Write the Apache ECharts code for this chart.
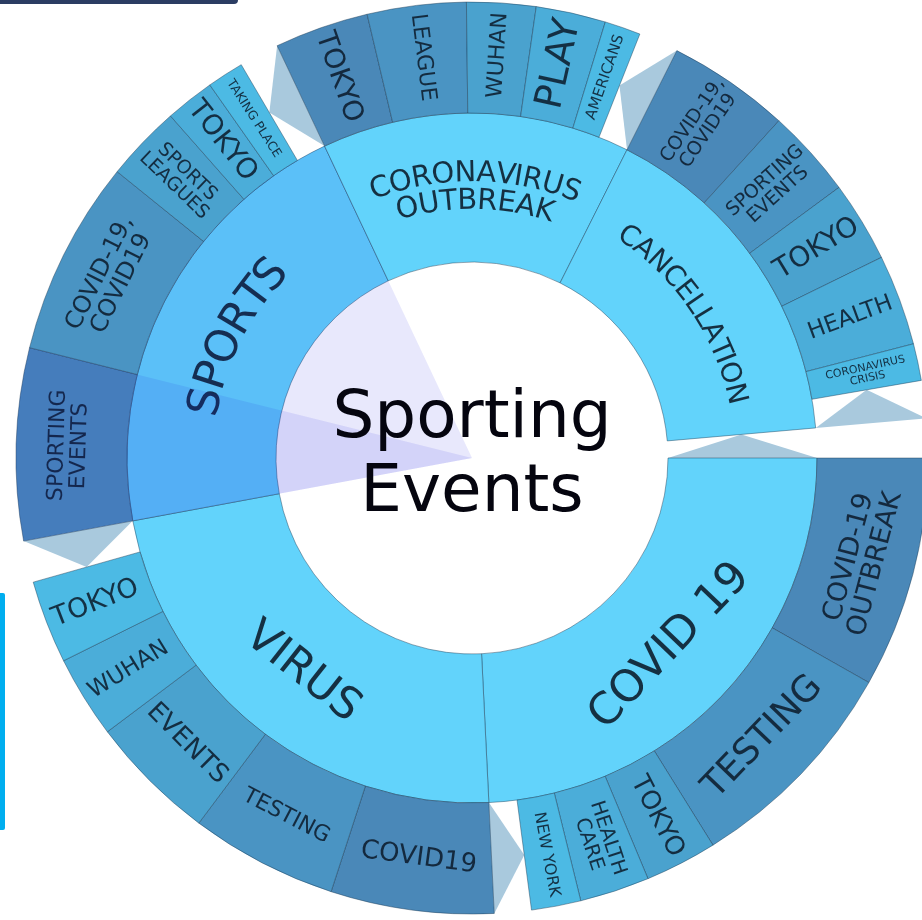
<!DOCTYPE html>
<html>
<head>
<meta charset="utf-8">
<title>Sporting Events</title>
<script src="https://cdn.jsdelivr.net/npm/echarts@6/dist/echarts.min.js"></script>
<style>
  html, body { margin: 0; padding: 0; background: #fff; }
  #main { width: 922px; height: 920px; }
</style>
</head>
<body>
<div id="main"></div>
<script>
// inner ring: topics, clockwise from 3 o'clock (weights)
var topics = ['COVID 19', 'VIRUS', 'SPORTS', 'CORONAVIRUS\nOUTBREAK', 'CANCELLATION'];
var topicValues = [87.2, 82.3, 75.2, 52.0, 58.3];
var topicRest = 5;

// outer ring: keywords of each topic, same order as topics
var covidWords = ['COVID-19\nOUTBREAK', 'TESTING', 'TOKYO', 'HEALTH\nCARE', 'NEW YORK'];
var covidValues = [29.5, 28.6, 9.2, 8.9, 6.3];
var virusWords = ['COVID19', 'TESTING', 'EVENTS', 'WUHAN', 'TOKYO'];
var virusValues = [20.8, 18.8, 16.3, 10.5, 10.6];
var sportsWords = ['SPORTING\nEVENTS', 'COVID-19,\nCOVID19', 'SPORTS\nLEAGUES', 'TOKYO', 'TAKING PLACE'];
var sportsValues = [24.5, 24.9, 9.7, 6.3, 4.7];
var outbreakWords = ['TOKYO', 'LEAGUE', 'WUHAN', 'PLAY', 'AMERICANS'];
var outbreakValues = [12.0, 12.6, 8.8, 8.9, 4.6];
var cancelWords = ['COVID-19,\nCOVID19', 'SPORTING\nEVENTS', 'TOKYO', 'HEALTH', 'CORONAVIRUS\nCRISIS'];
var cancelValues = [15.6, 11.3, 10.3, 11.6, 4.7];

var centerTitle = 'Sporting\nEvents';
// hovered path: SPORTS > SPORTING EVENTS
var hoverTopic = 2, hoverWord = 0;

// label sizes (style only)
var topicFont = [44, 44, 44, 29, 28];
var wordFont = [
    [27, 36, 26, 20, 16],
    [26, 22, 26, 23, 27],
    [22, 24, 19, 28, 12.5],
    [28, 22, 22, 38, 15],
    [19, 19, 28, 23, 11]
];

var groups = [
    {words: covidWords, values: covidValues},
    {words: virusWords, values: virusValues},
    {words: sportsWords, values: sportsValues},
    {words: outbreakWords, values: outbreakValues},
    {words: cancelWords, values: cancelValues}
];

var CX = 472, CY = 458;
var R_HOLE = 196, R_MID = 345, R_OUT = 456;
var FONT = 'DejaVu Sans';
var ringColor = '#62d3fb';
var wordColors = ['#4a88b8', '#4a94c3', '#4aa2ce', '#4badd9', '#4cbae4'];
var notchColor = '#a9c9dd';
var hoverColor = 'rgba(26,26,224,0.1)';
var edge = 'rgba(25,55,80,0.55)';
var innerText = 'rgba(10,25,40,0.88)';

function sum(a) { return a.reduce(function (s, v) { return s + v; }, 0); }
function norm(a) { return ((a % 360) + 360) % 360; }

var measureCtx = document.createElement('canvas').getContext('2d');
function textWidth(s, size) {
    measureCtx.font = size + 'px "' + FONT + '"';
    return measureCtx.measureText(s).width;
}

// upper-half topic labels are bent along the ring
function arcLabel(text, size, midDeg, r0, color) {
    var lines = text.split('\n');
    var lh = size * 0.95;
    var out = [];
    var mid = midDeg * Math.PI / 180;
    lines.forEach(function (line, li) {
        var r = r0 + ((lines.length - 1) / 2 - li) * lh;
        var w = textWidth(line, size);
        for (var i = 0; i < line.length; i++) {
            var ch = line[i];
            if (ch === ' ') continue;
            var xc = textWidth(line.slice(0, i), size) + textWidth(ch, size) / 2;
            var phi = mid + (w / 2 - xc) / r;
            out.push({
                type: 'text',
                z: 4,
                silent: true,
                x: CX + r * Math.cos(phi),
                y: CY - r * Math.sin(phi),
                rotation: phi - Math.PI / 2,
                style: {
                    text: ch,
                    font: size + 'px "' + FONT + '"',
                    fill: color,
                    align: 'center',
                    verticalAlign: 'middle'
                }
            });
        }
    });
    return out;
}

var degPer = 360 / (sum(topicValues) + topicRest);

var chart = echarts.init(document.getElementById('main'));

var series = [];
var notches = [];
var bentText = [];

// inner ring
var t0 = 0;
var topicData = topics.map(function (t, i) {
    var span = topicValues[i] * degPer;
    var midDeg = t0 - span / 2;
    t0 -= span;
    var upper = Math.sin(midDeg * Math.PI / 180) > 0;
    if (upper) {
        bentText = bentText.concat(arcLabel(t, topicFont[i], midDeg, (R_HOLE + R_MID) / 2, innerText));
    }
    return {
        name: t,
        value: topicValues[i],
        label: {show: !upper, rotate: 'tangential', fontSize: topicFont[i]}
    };
});
var innerEnd = -sum(topicValues) * degPer;
series.push({
    type: 'pie',
    z: 2,
    center: [CX, CY],
    radius: [R_HOLE, R_MID],
    startAngle: 0,
    endAngle: norm(innerEnd),
    avoidLabelOverlap: false,
    animation: false,
    silent: true,
    itemStyle: {color: ringColor, borderColor: edge, borderWidth: 0.8},
    label: {
        position: 'inside',
        color: innerText,
        fontFamily: FONT
    },
    labelLine: {show: false},
    data: topicData
});
notches.push([norm(innerEnd), 0, R_HOLE, R_MID]);

// outer ring, one pie per topic
var a = 0;
var hoverAngles = null, hoverWordAngles = null;
groups.forEach(function (g, gi) {
    var topicStart = a;
    var topicEnd = a - topicValues[gi] * degPer;
    var wordsEnd = topicStart - sum(g.values) * degPer;
    var data = g.words.map(function (w, wi) {
        var span = g.values[wi] * degPer;
        return {
            name: w,
            value: g.values[wi],
            itemStyle: {color: wordColors[wi]},
            label: {rotate: span >= 16 ? 'tangential' : 'radial', fontSize: wordFont[gi][wi]}
        };
    });
    series.push({
        type: 'pie',
        z: 2,
        center: [CX, CY],
        radius: [R_MID, R_OUT],
        startAngle: norm(topicStart),
        endAngle: norm(wordsEnd),
        avoidLabelOverlap: false,
        animation: false,
        silent: true,
        itemStyle: {borderColor: edge, borderWidth: 0.8},
        label: {
            position: 'inside',
            color: 'rgba(10,25,40,0.85)',
            fontFamily: FONT
        },
        labelLine: {show: false},
        data: data
    });
    notches.push([norm(wordsEnd), norm(topicEnd), R_MID, R_OUT]);
    if (gi === hoverTopic) {
        hoverAngles = [topicStart, topicEnd];
        var ws = topicStart;
        for (var k = 0; k < hoverWord; k++) ws -= g.values[k] * degPer;
        hoverWordAngles = [ws, ws - g.values[hoverWord] * degPer];
    }
    a = topicEnd;
});

// translucent hover wedges
function wedge(angles, rOuter) {
    return {
        type: 'pie',
        z: 5,
        silent: true,
        animation: false,
        center: [CX, CY],
        radius: [0, rOuter],
        startAngle: norm(angles[0]),
        endAngle: norm(angles[1]),
        label: {show: false},
        labelLine: {show: false},
        itemStyle: {color: hoverColor, borderWidth: 0},
        data: [{value: 1, name: ''}]
    };
}
series.push(wedge(hoverAngles, R_MID));
series.push(wedge(hoverWordAngles, R_OUT));

// pointers in the unfilled part of each ring
series.push({
    type: 'custom',
    coordinateSystem: 'polar',
    z: 1,
    silent: true,
    animation: false,
    data: notches,
    renderItem: function (params, api) {
        var tipA = api.value(0), baseA = api.value(1);
        var r0 = api.value(2), r1 = api.value(3);
        return {
            type: 'polygon',
            shape: {points: [
                api.coord([(r0 + r1) / 2, tipA]),
                api.coord([r0, baseA]),
                api.coord([r1, baseA])
            ]},
            style: {fill: notchColor}
        };
    }
});

var option = {
    backgroundColor: '#fff',
    animation: false,
    polar: {center: [CX, CY], radius: R_OUT},
    angleAxis: {type: 'value', min: 0, max: 360, startAngle: 0, clockwise: false, show: false},
    radiusAxis: {type: 'value', min: 0, max: R_OUT, show: false},
    graphic: [
        {
            type: 'text',
            z: 10,
            x: CX,
            y: CY - 1,
            style: {
                text: centerTitle,
                fill: '#05050f',
                font: '66px "DejaVu Sans"',
                align: 'center',
                verticalAlign: 'middle',
                lineHeight: 74
            }
        },
        {
            type: 'rect',
            z: 10,
            shape: {x: -8, y: -8, width: 246, height: 12, r: 4},
            style: {fill: '#2b3d63'}
        },
        {
            type: 'rect',
            z: 10,
            shape: {x: -4, y: 593, width: 9, height: 237, r: 2},
            style: {fill: '#00aeef'}
        }
    ].concat(bentText),
    series: series
};

chart.setOption(option);
</script>
</body>
</html>
